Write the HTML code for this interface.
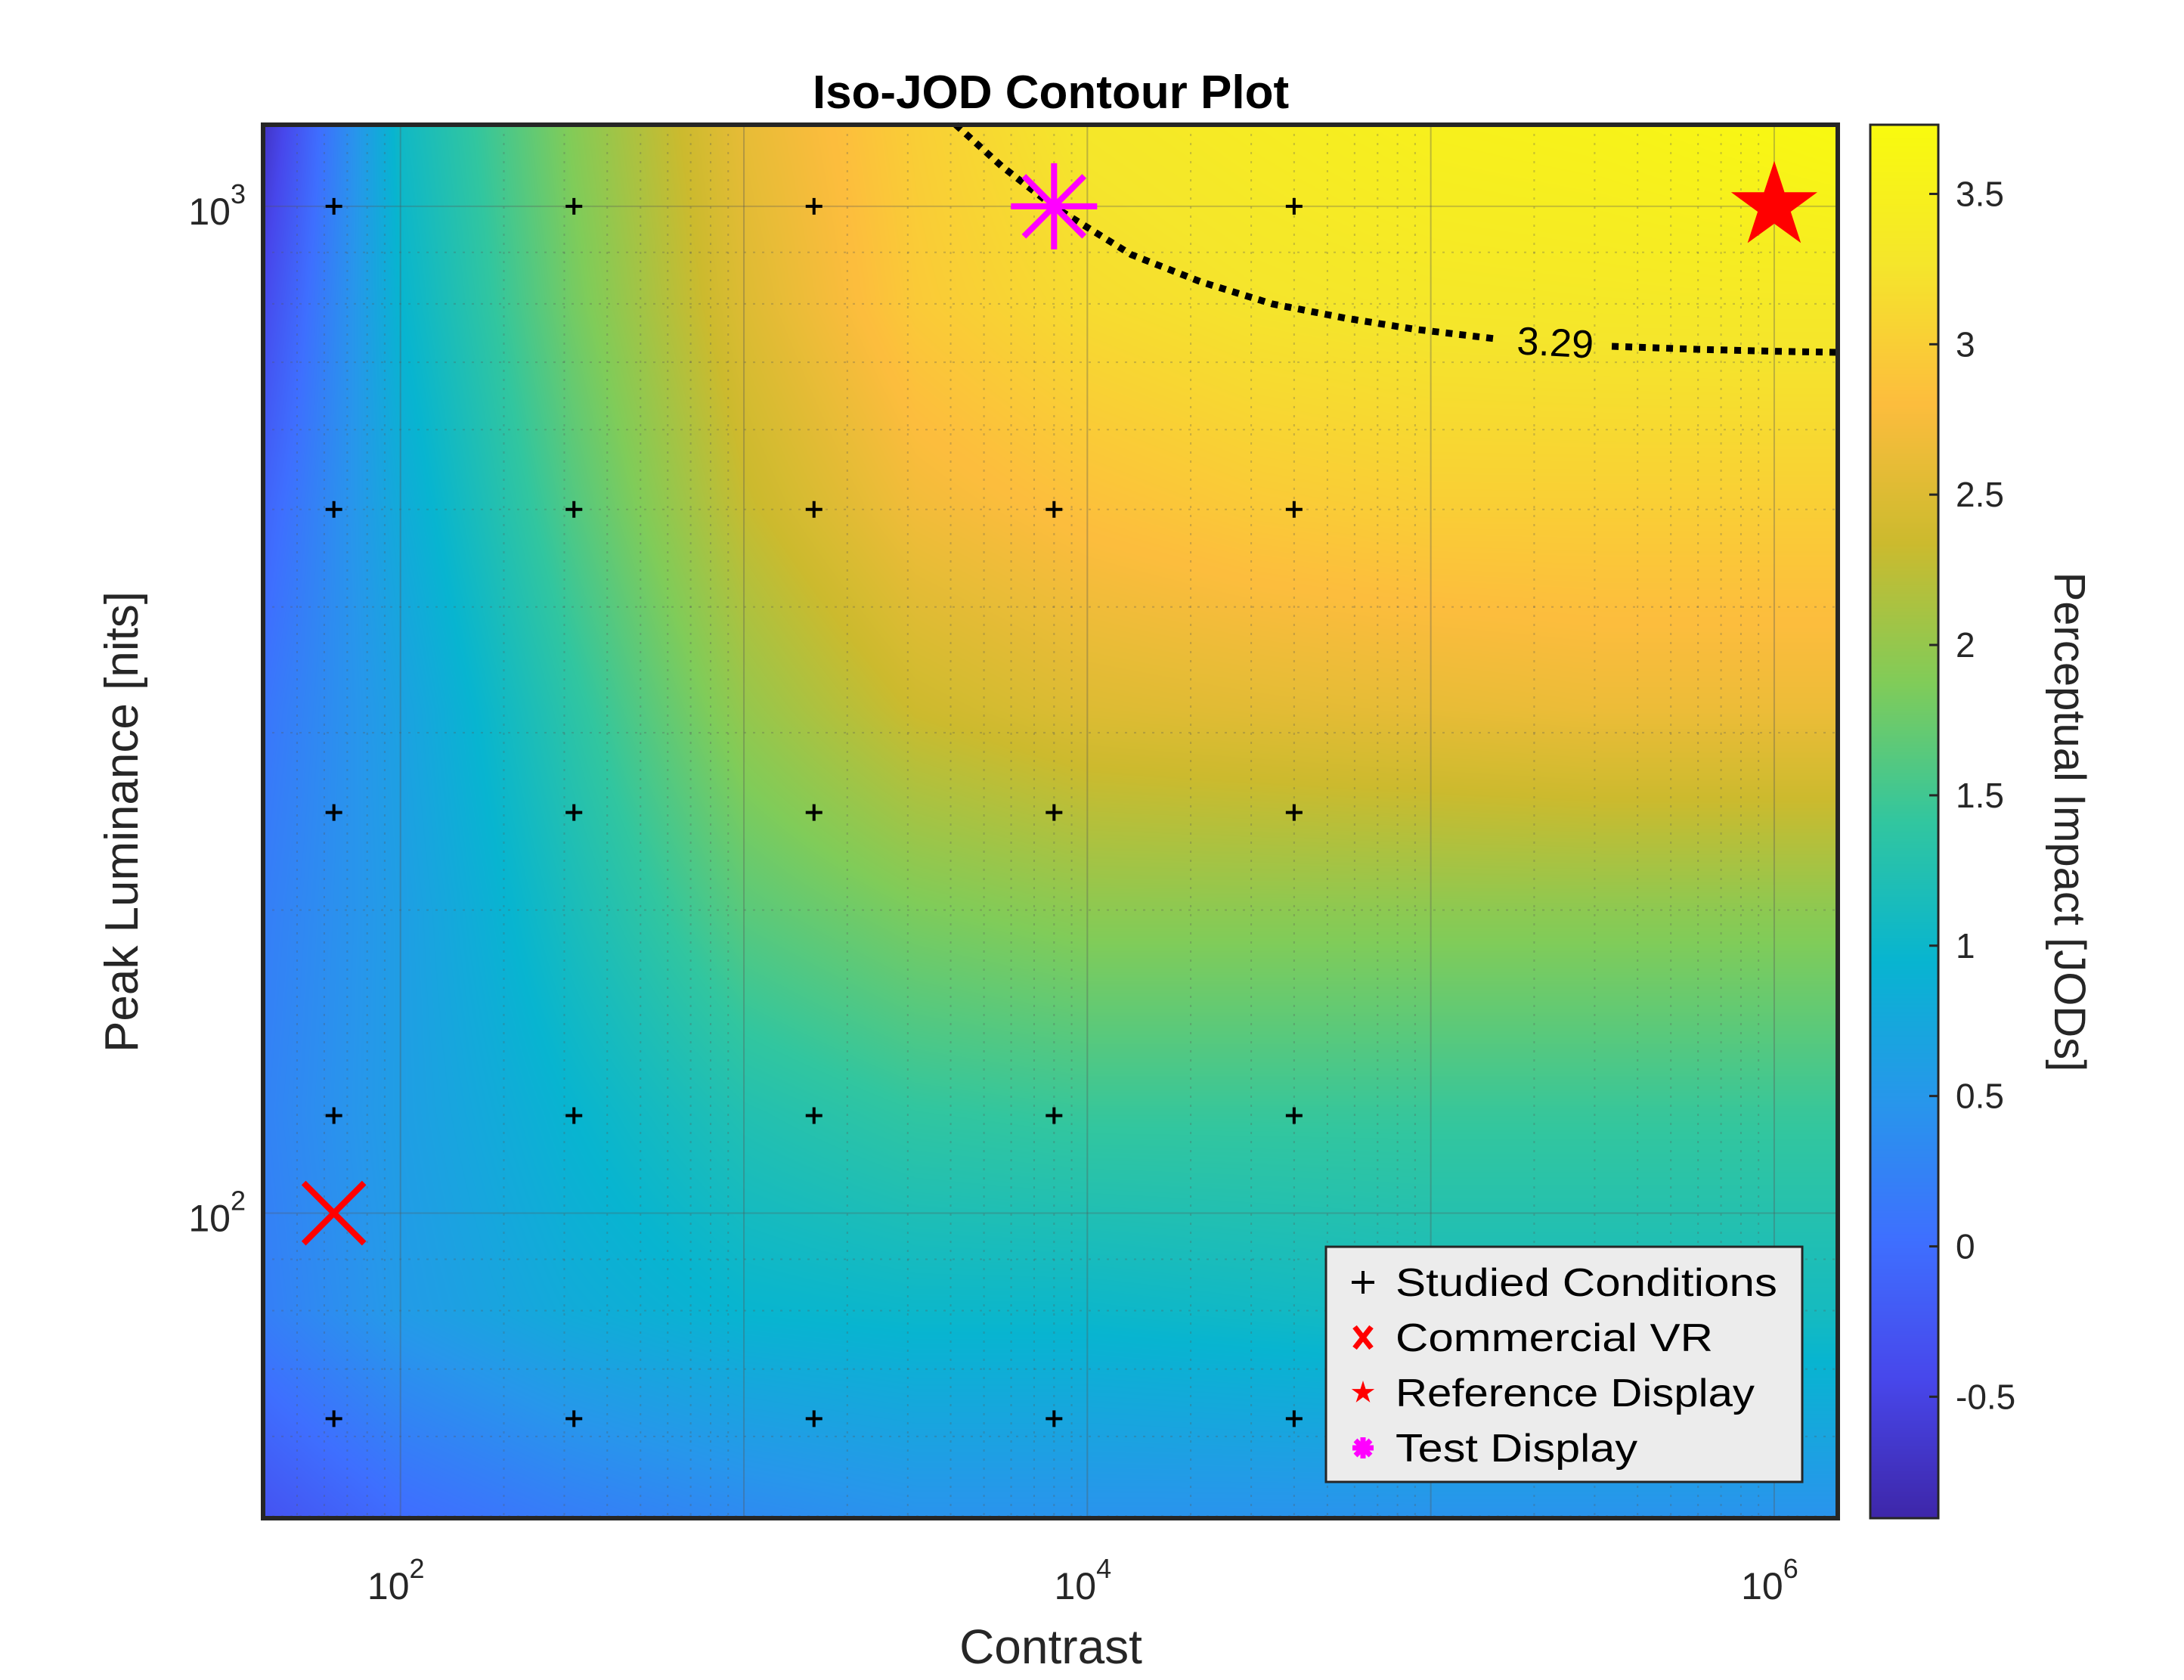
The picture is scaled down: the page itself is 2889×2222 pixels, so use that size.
<!DOCTYPE html>
<html><head><meta charset="utf-8">
<style>
html,body{margin:0;padding:0;background:#fff;}
#wrap{position:relative;width:2889px;height:2222px;overflow:hidden;}
canvas,svg{position:absolute;left:0;top:0;}
text{font-family:"Liberation Sans",sans-serif;fill:#262626;}
</style></head>
<body>
<div id="wrap">
<canvas id="heat" width="2889" height="2222"></canvas>
<svg id="svg" width="2889" height="2222" viewBox="0 0 2889 2222"></svg>
</div>
<script>
// ---- data ----
const gridXLog = [1.6, 2, 2.5, 3, 3.5, 4, 4.5, 5, 5.5, 6, 6.2];
const gridYLog = [1.7, 1.9, 2.1, 2.3, 2.5, 2.7, 2.9, 3.08];
const jodRows = [
 [-0.3, 0.0, 0.2, 0.35, 0.45, 0.45, 0.45, 0.45, 0.45, 0.45, 0.45],
 [0.2, 0.55, 0.8, 0.95, 1.0, 1.0, 1.05, 1.1, 1.1, 1.1, 1.1],
 [0.25, 0.6, 0.95, 1.25, 1.4, 1.45, 1.45, 1.45, 1.45, 1.45, 1.45],
 [0.2, 0.6, 1.15, 1.65, 1.85, 1.95, 1.95, 1.95, 1.95, 1.95, 1.95],
 [0.1, 0.65, 1.35, 2.0, 2.35, 2.5, 2.55, 2.6, 2.65, 2.65, 2.65],
 [-0.1, 0.8, 1.6, 2.3, 2.7, 2.85, 2.95, 3.0, 3.0, 3.0, 3.0],
 [-0.4, 0.95, 1.8, 2.5, 2.95, 3.15, 3.25, 3.3, 3.32, 3.33, 3.33],
 [-0.7, 1.05, 1.9, 2.6, 3.0, 3.3, 3.4, 3.5, 3.55, 3.65, 3.7]
];
const studiedX = [64, 320, 1600, 8000, 40000];
const studiedY = [62.5, 125, 250, 500, 1000];
const commercialVR = [64, 100];
const referenceDisplay = [1e6, 1000];
const testDisplay = [8000, 1000];
const contourXLog = [3.617, 3.75, 3.901, 4.128, 4.33, 4.539, 4.75, 4.951, 5.198];
const contourYLog = [3.081, 3.04, 3.0, 2.952, 2.925, 2.903, 2.889, 2.878, 2.868];
const contour2XLog = [5.527, 5.774, 6.0, 6.185];
const contour2YLog = [2.861, 2.858, 2.856, 2.855];
const contourLabel = "3.29";
const cbTicks = [-0.5, 0, 0.5, 1, 1.5, 2, 2.5, 3, 3.5];
const xTickExps = [2, 4, 6];
const yTickExps = [2, 3];

// ---- geometry ----
const PX0=348, PX1=2431, PY0=165, PY1=2008;
const XL0=1.6, XL1=6.185, YL0=1.697, YL1=3.081;
const CB0=-0.904, CB1=3.73, CBX0=2474, CBX1=2564;
const xs = l => PX0 + (l-XL0)/(XL1-XL0)*(PX1-PX0);
const ys = l => PY1 - (l-YL0)/(YL1-YL0)*(PY1-PY0);
const cby = v => PY1 - (v-CB0)/(CB1-CB0)*(PY1-PY0);

const par = [[0,.2422,.1504,.6603],[.1,.2803,.2782,.9221],[.2,.244,.4358,.9988],[.3,.154,.5902,.9218],[.4,.0297,.7082,.8163],[.5,.1938,.7758,.6251],[.6,.5044,.7993,.348],[.7,.80,.73,.18],[.8,.99,.74,.24],[.9,.96,.90,.17],[1,.976,.983,.054]];
function cmap(v){
  let t=(v-CB0)/(CB1-CB0); t=Math.max(0,Math.min(1,t));
  for(let i=0;i<par.length-1;i++){ if(t<=par[i+1][0]){const a=par[i],b=par[i+1],f=(t-a[0])/(b[0]-a[0]);
    return [0,1,2].map(k=>Math.round(255*(a[k+1]+(b[k+1]-a[k+1])*f)));}}
  return [249,251,14];
}
function seg(arr,v){ for(let i=0;i<arr.length-1;i++) if(v<=arr[i+1]) return [i,(v-arr[i])/(arr[i+1]-arr[i])]; return [arr.length-2,1]; }
function field(xl,yl){
  const [i,fx]=seg(gridXLog,Math.max(gridXLog[0],xl)); const [j,fy]=seg(gridYLog,Math.max(gridYLog[0],yl));
  const a=jodRows[j][i],b=jodRows[j][i+1],c=jodRows[j+1][i],d=jodRows[j+1][i+1];
  return (a*(1-fx)+b*fx)*(1-fy)+(c*(1-fx)+d*fx)*fy;
}
const ctx=document.getElementById('heat').getContext('2d');
const W=PX1-PX0,H=PY1-PY0, img=ctx.createImageData(W,H);
for(let y=0;y<H;y++){ const yl=YL1-(y/H)*(YL1-YL0);
  for(let x=0;x<W;x++){ const xl=XL0+(x/W)*(XL1-XL0); const c=cmap(field(xl,yl)); const p=(y*W+x)*4;
    img.data[p]=c[0];img.data[p+1]=c[1];img.data[p+2]=c[2];img.data[p+3]=255;}}
ctx.putImageData(img,PX0,PY0);
for(let y=PY0;y<PY1;y++){ const c=cmap(CB1-(y-PY0)/(PY1-PY0)*(CB1-CB0)); ctx.fillStyle=`rgb(${c})`; ctx.fillRect(CBX0,y,CBX1-CBX0,1);}

// ---- svg ----
const svg=document.getElementById('svg'), NS='http://www.w3.org/2000/svg';
function el(tag,attrs,parent){const e=document.createElementNS(NS,tag);for(const k in attrs)e.setAttribute(k,attrs[k]);(parent||svg).appendChild(e);return e;}
const grid=el('g',{});


for(let e=1;e<=6;e++)for(let m=1;m<10;m++){const l=e+Math.log10(m); if(l<XL0||l>XL1)continue; const x=xs(l);
  el('line',{x1:x,x2:x,y1:PY0,y2:PY1,stroke:'#555','stroke-opacity':m==1?0.35:0.3,'stroke-width':2,'stroke-dasharray':m==1?'':'3 9'},grid);}
for(let e=1;e<=3;e++)for(let m=1;m<10;m++){const l=e+Math.log10(m); if(l<YL0||l>YL1)continue; const y=ys(l);
  el('line',{x1:PX0,x2:PX1,y1:y,y2:y,stroke:'#555','stroke-opacity':0.3,'stroke-width':2,'stroke-dasharray':m==1?'':'3 9'},grid);}
function pathFrom(xa,ya){return xa.map((v,i)=>(i?'L':'M')+xs(v).toFixed(1)+' '+ys(ya[i]).toFixed(1)).join(' ');}
const c1=el('path',{d:pathFrom(contourXLog,contourYLog),fill:'none',stroke:'#000','stroke-width':9,'stroke-dasharray':'9 9'});


const c2=el('path',{d:pathFrom(contour2XLog,contour2YLog),fill:'none',stroke:'#000','stroke-width':9,'stroke-dasharray':'9 9'});


const lx=(xs(5.198)+xs(5.527))/2, ly=ys(2.864);
const cl=el('text',{x:lx,y:ly+17,'font-size':52,'text-anchor':'middle',transform:`rotate(3 ${lx} ${ly})`});
cl.textContent=contourLabel; cl.style.fill='#000';


for(const sx of studiedX)for(const sy of studiedY){const x=xs(Math.log10(sx)),y=ys(Math.log10(sy));
  const g=el('path',{d:`M${x-11} ${y}H${x+11}M${x} ${y-11}V${y+11}`,stroke:'#000','stroke-width':4});
  
  }
{const x=xs(Math.log10(commercialVR[0])),y=ys(Math.log10(commercialVR[1])),r=40;
 const m=el('path',{d:`M${x-r} ${y-r}L${x+r} ${y+r}M${x-r} ${y+r}L${x+r} ${y-r}`,stroke:'#f00','stroke-width':8});
 
 }
function starPts(cx,cy,R,r){let p=[];for(let i=0;i<10;i++){const a=-Math.PI/2+i*Math.PI/5,rr=i%2?r:R;p.push((cx+rr*Math.cos(a)).toFixed(1)+','+(cy+rr*Math.sin(a)).toFixed(1));}return p.join(' ');}
{const x=xs(Math.log10(referenceDisplay[0])),y=ys(Math.log10(referenceDisplay[1]));
 const m=el('polygon',{points:starPts(x,y,60,23),fill:'#f00'});
 
 }
{const x=xs(Math.log10(testDisplay[0])),y=ys(Math.log10(testDisplay[1])),r=57;
 const m=el('path',{d:`M${x-r} ${y}H${x+r}M${x} ${y-r}V${y+r}M${x-r*0.7} ${y-r*0.7}L${x+r*0.7} ${y+r*0.7}M${x-r*0.7} ${y+r*0.7}L${x+r*0.7} ${y-r*0.7}`,stroke:'#f0f','stroke-width':8});
 
 }
const fr=el('rect',{x:PX0,y:PY0,width:PX1-PX0,height:PY1-PY0,fill:'none',stroke:'#262626','stroke-width':6});


const cf=el('rect',{x:CBX0,y:PY0,width:CBX1-CBX0,height:PY1-PY0,fill:'none',stroke:'#262626','stroke-width':3});


for(const e of xTickExps){const x=xs(e);
  const t=el('text',{x:x-6,y:2115,'font-size':50,'text-anchor':'middle'}); t.innerHTML=`10<tspan font-size="36" dy="-28">${e}</tspan>`;
  
  }
for(const e of yTickExps){const y=ys(e);
  const t=el('text',{x:325,y:y+24,'font-size':50,'text-anchor':'end'}); t.innerHTML=`10<tspan font-size="36" dy="-28">${e}</tspan>`;
  
  }
for(const v of cbTicks){const y=cby(v);
  el('line',{x1:CBX1-12,x2:CBX1,y1:y,y2:y,stroke:'#262626','stroke-width':3});
  const t=el('text',{x:2587,y:y+16,'font-size':46}); t.textContent=String(v);
  
  }
const title=el('text',{x:1390,y:143,'font-size':62,'font-weight':'bold','text-anchor':'middle'}); title.textContent='Iso-JOD Contour Plot'; title.style.fill='#000';


const xl=el('text',{x:1390,y:2200,'font-size':64,'text-anchor':'middle'}); xl.textContent='Contrast';


const yl=el('text',{x:0,y:0,'font-size':62,'text-anchor':'middle',transform:'translate(182 1087) rotate(-90)'}); yl.textContent='Peak Luminance [nits]';


const cl2=el('text',{x:0,y:0,'font-size':58,'text-anchor':'middle',transform:'translate(2718 1087) rotate(90)'}); cl2.textContent='Perceptual Impact [JODs]';


const lg=el('g',{});


el('rect',{x:1754,y:1649,width:630,height:311,fill:'#ececec',stroke:'#262626','stroke-width':3},lg);
const names=['Studied Conditions','Commercial VR','Reference Display','Test Display'];
names.forEach((n,i)=>{const y=1696+i*73;
  const ent=el('g',{},lg);
  
  
  if(i==0) el('path',{d:`M1788 ${y}h30M1803 ${y-15}v30`,stroke:'#000','stroke-width':4},ent);
  if(i==1) el('path',{d:`M1792 ${y-14}L1814 ${y+14}M1792 ${y+14}L1814 ${y-14}`,stroke:'#f00','stroke-width':7},ent);
  if(i==2) el('polygon',{points:starPts(1803,y,16,6),fill:'#f00'},ent);
  if(i==3) el('path',{d:`M1789 ${y}h28M1803 ${y-14}v28M1793 ${y-10}L1813 ${y+10}M1793 ${y+10}L1813 ${y-10}`,stroke:'#f0f','stroke-width':7},ent);
  const t=el('text',{x:1846,y:y+18,'font-size':52,textLength:i==0?505:(i==1?420:(i==2?475:320)),lengthAdjust:'spacingAndGlyphs'},ent); t.textContent=n; t.style.fill='#000';});
</script>
</body></html>
